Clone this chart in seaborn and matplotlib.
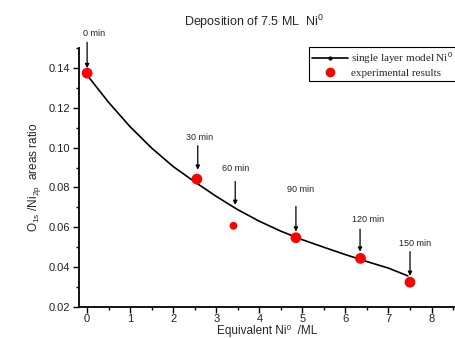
import matplotlib
matplotlib.use("Agg")
import matplotlib.pyplot as plt
from matplotlib.ticker import MultipleLocator, FormatStrFormatter
from matplotlib.lines import Line2D
import seaborn as sns
import pandas as pd

# ---- data ----
model_x = [0, 0.5, 1.0, 1.5, 2.0, 2.5, 3.0, 3.5, 4.0, 4.5, 5.0, 5.5, 6.0, 6.5, 7.0, 7.45]
model_y = [0.1365, 0.1228, 0.1105, 0.0998, 0.0905, 0.0828, 0.0755, 0.0688, 0.0630,
           0.0580, 0.0537, 0.0499, 0.0462, 0.0427, 0.0394, 0.0355]
exp_x = [0.0, 2.55, 3.40, 4.85, 6.35, 7.50]
exp_y = [0.1375, 0.0842, 0.0607, 0.0547, 0.0443, 0.0323]
time_labels = ["0 min", "30 min", "60 min", "90 min", "120 min", "150 min"]
x_ticks = [0, 1, 2, 3, 4, 5, 6, 7, 8]
y_ticks = [0.02, 0.04, 0.06, 0.08, 0.10, 0.12, 0.14]

# ---- annotation placement (styling / layout) ----
arrow_x = [0.0, 2.57, 3.44, 4.85, 6.34, 7.50]
arrow_top = [0.153, 0.1010, 0.0830, 0.0704, 0.0590, 0.0477]
arrow_tip = [0.140, 0.0889, 0.0712, 0.0578, 0.0477, 0.0355]
label_x = [0.15, 2.61, 3.44, 4.95, 6.53, 7.62]
label_y = [0.1574, 0.1053, 0.0894, 0.0788, 0.0637, 0.0519]
dot_sizes = [60, 60, 32, 60, 60, 60]

sns.set_theme(style="ticks")
plt.rcParams["font.family"] = ["Liberation Sans", "DejaVu Sans"]
plt.rcParams["mathtext.fontset"] = "custom"
plt.rcParams["mathtext.rm"] = "Liberation Sans"
plt.rcParams["mathtext.it"] = "Liberation Sans:italic"
plt.rcParams["mathtext.bf"] = "Liberation Sans:bold"

fig = plt.figure(figsize=(4.55, 3.38), dpi=100)
ax = fig.add_axes([78.5 / 455, 1 - 306.7 / 338, 1 - 78.5 / 455, (306.7 - 48.3) / 338])

model_df = pd.DataFrame({"x": model_x, "y": model_y})
exp_df = pd.DataFrame({"x": exp_x, "y": exp_y, "s": dot_sizes})

sns.lineplot(data=model_df, x="x", y="y", ax=ax, color="black", lw=1.2,
             sort=False, zorder=3)
sns.scatterplot(data=exp_df, x="x", y="y", ax=ax, size="s", sizes=(32, 60),
                color="#ff0000", edgecolor="none", legend=False, zorder=4)

for xa, yt, yb, lx, ly, lab in zip(arrow_x, arrow_top, arrow_tip, label_x, label_y, time_labels):
    ax.annotate("", xy=(xa, yb), xytext=(xa, yt),
                arrowprops=dict(arrowstyle="-|>", color="black", lw=0.9,
                                mutation_scale=6, shrinkA=0, shrinkB=0),
                annotation_clip=False)
    ax.text(lx, ly, lab, ha="center", va="center", fontsize=6.5, color="#222222",
            clip_on=False)

ax.set_xlim(-0.2, 8.545)
ax.set_ylim(0.02, 0.15)
ax.set_xticks(x_ticks)
ax.set_yticks(y_ticks)
ax.xaxis.set_minor_locator(MultipleLocator(0.5))
ax.yaxis.set_minor_locator(MultipleLocator(0.01))
ax.yaxis.set_major_formatter(FormatStrFormatter("%.2f"))
ax.tick_params(axis="both", which="major", direction="out", length=4, width=1.0,
               labelsize=8, color="black", labelcolor="#222222", pad=2)
ax.tick_params(axis="x", which="major", pad=1.5)
ax.tick_params(axis="both", which="minor", direction="out", length=2.5, width=1.0,
               color="black")

for s in ["top", "right"]:
    ax.spines[s].set_visible(False)
for s in ["left", "bottom"]:
    ax.spines[s].set_linewidth(1.3)
    ax.spines[s].set_color("black")

ax.set_xlabel("Equivalent Ni\u2070  /ML", fontsize=8.5, labelpad=0.5,
              family=["Liberation Sans", "DejaVu Sans"])
ax.set_ylabel(r"O$_{\mathrm{1s}}$ /Ni$_{\mathrm{2p}}$  areas ratio", fontsize=8.5, labelpad=4)

fig.text(254 / 455, 1 - 22 / 338, r"Deposition of 7.5 ML  Ni$^{0}$", ha="center",
         va="center", fontsize=9)

handles = [Line2D([0], [0], color="black", lw=1.2, marker=".", markersize=4),
           Line2D([0], [0], color="#ff0000", lw=0, marker="o", markersize=7,
                  markeredgewidth=0)]
leg = fig.legend(handles, [r"single layer model Ni$^{0}$", "experimental results"],
                 loc="upper left", bbox_to_anchor=(309 / 455, 1 - 47 / 338),
                 prop={"family": "Liberation Serif", "size": 8},
                 frameon=True, fancybox=False, framealpha=1, edgecolor="black",
                 borderpad=0.3, handlelength=3.2, handletextpad=0.3, labelspacing=0.15,
                 borderaxespad=0)
leg.get_frame().set_linewidth(0.8)

fig.savefig("out.png", dpi=100)
